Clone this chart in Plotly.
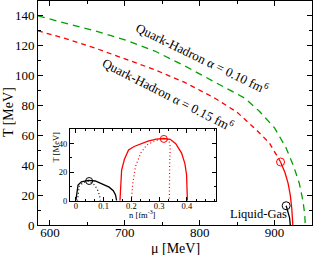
import plotly.graph_objects as go

# ---- main panel data (mu [MeV], T [MeV]) ----
green_mu = [584, 620, 660, 700, 740, 780, 820, 860, 880, 900, 915, 925, 933, 938, 940.3, 941]
green_T = [140, 135.5, 130, 124, 116.5, 106.5, 96, 85, 76, 65, 52, 40, 28, 16, 7, 0]

red_dash_mu = [584, 620, 660, 700, 740, 780, 820, 850, 875, 893, 908]
red_dash_T = [130, 125, 118.5, 111.5, 104, 95.5, 85, 75.5, 64, 55, 42.2]

red_solid_mu = [908, 914, 918, 921, 923, 924, 924.4]
red_solid_T = [42.2, 35, 28, 20, 11, 4, 0]

lg_mu = [915.5, 918, 920, 921]
lg_T = [12.9, 9, 5, 0]

cp_red = (908, 42.2)
cp_black = (915.5, 12.9)

# ---- inset data (n [fm^-3], T [MeV]) ----
in_black_n = [0, 0.003, 0.008, 0.02, 0.045, 0.07, 0.1, 0.12, 0.135, 0.143, 0.147]
in_black_T = [0, 6, 11, 13.2, 14.2, 13.8, 11.5, 9.5, 7, 4, 0]

in_black_sp_n = [0.006, 0.008, 0.012, 0.025, 0.048, 0.068, 0.08, 0.086, 0.088]
in_black_sp_T = [0, 6, 10, 12.5, 13.8, 11, 7, 3, 0]

in_red_n = [0.159, 0.162, 0.165, 0.175, 0.19, 0.21, 0.231, 0.26, 0.29, 0.317, 0.34, 0.36, 0.381, 0.393, 0.399, 0.401, 0.402]
in_red_T = [0, 12, 21.5, 29, 35.5, 38, 39.5, 41.8, 43.2, 43.6, 43, 40, 33.4, 26, 18, 8, 0]

in_red_sp_n = [0.2, 0.205, 0.215, 0.234, 0.255, 0.285, 0.317, 0.335, 0.34, 0.338, 0.337]
in_red_sp_T = [0, 12, 24, 33.4, 39, 42, 43.3, 42.5, 38, 25, 0]

in_cp_red = (0.317, 43.3)
in_cp_black = (0.048, 13.8)

FONT = "Liberation Serif"
RED = "#ff0000"
GREEN = "#00a000"

fig = go.Figure()

# main curves
fig.add_trace(go.Scatter(x=green_mu, y=green_T, mode="lines",
                         line=dict(color=GREEN, width=1.3, dash="7px,5px")))
fig.add_trace(go.Scatter(x=red_dash_mu, y=red_dash_T, mode="lines",
                         line=dict(color=RED, width=1.3, dash="5px,4px")))
fig.add_trace(go.Scatter(x=red_solid_mu, y=red_solid_T, mode="lines",
                         line=dict(color=RED, width=1.3)))
fig.add_trace(go.Scatter(x=lg_mu, y=lg_T, mode="lines",
                         line=dict(color="black", width=1.3)))
fig.add_trace(go.Scatter(x=[cp_red[0]], y=[cp_red[1]], mode="markers",
                         marker=dict(symbol="circle-open", size=8, color=RED, line=dict(width=1))))
fig.add_trace(go.Scatter(x=[cp_black[0]], y=[cp_black[1]], mode="markers",
                         marker=dict(symbol="circle-open", size=8, color="black", line=dict(width=1))))

# inset curves
fig.add_trace(go.Scatter(x=in_black_n, y=in_black_T, mode="lines", xaxis="x2", yaxis="y2",
                         line=dict(color="black", width=1.3)))
fig.add_trace(go.Scatter(x=in_black_sp_n, y=in_black_sp_T, mode="lines", xaxis="x2", yaxis="y2",
                         line=dict(color="black", width=1.2, dash="1px,2.5px")))
fig.add_trace(go.Scatter(x=in_red_n, y=in_red_T, mode="lines", xaxis="x2", yaxis="y2",
                         line=dict(color=RED, width=1.3)))
fig.add_trace(go.Scatter(x=in_red_sp_n, y=in_red_sp_T, mode="lines", xaxis="x2", yaxis="y2",
                         line=dict(color=RED, width=1.2, dash="1px,2.5px")))
fig.add_trace(go.Scatter(x=[in_cp_red[0]], y=[in_cp_red[1]], mode="markers", xaxis="x2", yaxis="y2",
                         marker=dict(symbol="circle-open", size=7, color=RED, line=dict(width=1))))
fig.add_trace(go.Scatter(x=[in_cp_black[0]], y=[in_cp_black[1]], mode="markers", xaxis="x2", yaxis="y2",
                         marker=dict(symbol="circle-open", size=7, color="black", line=dict(width=1))))

axis_common = dict(showgrid=False, zeroline=False, showline=True, linecolor="black",
                   linewidth=1, mirror="allticks", ticks="inside", tickcolor="black")

fig.update_layout(
    width=313, height=255,
    margin=dict(l=38, r=1, t=1, b=30),
    paper_bgcolor="white", plot_bgcolor="white",
    showlegend=False,
    font=dict(family=FONT, color="black"),
    xaxis=dict(range=[584, 950], tickvals=[600, 700, 800, 900], ticklen=5,
               ticklabelstandoff=-5,
               minor=dict(dtick=50, tick0=600, ticklen=3, ticks="inside", tickcolor="black"),
               tickfont=dict(size=13, family=FONT), **axis_common),
    yaxis=dict(range=[0, 150], dtick=20, tick0=0, ticklen=5,
               minor=dict(dtick=10, tick0=0, ticklen=3, ticks="inside", tickcolor="black"),
               tickfont=dict(size=13, family=FONT), **axis_common),
    xaxis2=dict(domain=[0.1168, 0.6496], anchor="y2", range=[-0.021, 0.505],
                tickvals=[0, 0.1, 0.2, 0.3, 0.4], ticktext=["0", "0.1", "0.2", "0.3", "0.4"],
                ticklen=4, ticklabelstandoff=-3,
                minor=dict(dtick=0.1 / 3, tick0=0, ticklen=2, ticks="inside", tickcolor="black"),
                tickfont=dict(size=8.5, family=FONT), **axis_common),
    yaxis2=dict(domain=[0.1085, 0.427], anchor="x2", range=[0, 50],
                tickvals=[0, 20, 40], ticklen=4,
                minor=dict(dtick=10, tick0=0, ticklen=2, ticks="inside", tickcolor="black"),
                tickfont=dict(size=8.5, family=FONT), **axis_common),
)

ann = [
    dict(text="Quark-Hadron α = 0.10 fm<sup>6</sup>", x=804, y=112, xref="x", yref="y",
         textangle=26, font=dict(size=13, family=FONT)),
    dict(text="Quark-Hadron α = 0.15 fm<sup>6</sup>", x=758, y=88, xref="x", yref="y",
         textangle=27, font=dict(size=13, family=FONT)),
    dict(text="Liquid-Gas", x=878, y=7.4, xref="x", yref="y",
         font=dict(size=12.5, family=FONT)),
    dict(text="T [MeV]", x=-0.1095, y=0.504, xref="paper", yref="paper", textangle=-90,
         font=dict(size=14, family=FONT)),
    dict(text="μ [MeV]", x=0.5, y=-0.1027, xref="paper", yref="paper",
         font=dict(size=14, family=FONT)),
    dict(text="n [fm<sup>-3</sup>]", x=0.38, y=0.047, xref="paper", yref="paper",
         font=dict(size=8.5, family=FONT)),
    dict(text="T [MeV]", x=0.069, y=0.346, xref="paper", yref="paper", textangle=-90,
         font=dict(size=8.5, family=FONT)),
]
for a in ann:
    a.update(showarrow=False, xanchor="center", yanchor="middle")
fig.update_layout(annotations=ann)

fig.write_html("out.html", config={"displayModeBar": False},
               post_script="document.body.style.margin='0';document.body.style.overflow='hidden';")
